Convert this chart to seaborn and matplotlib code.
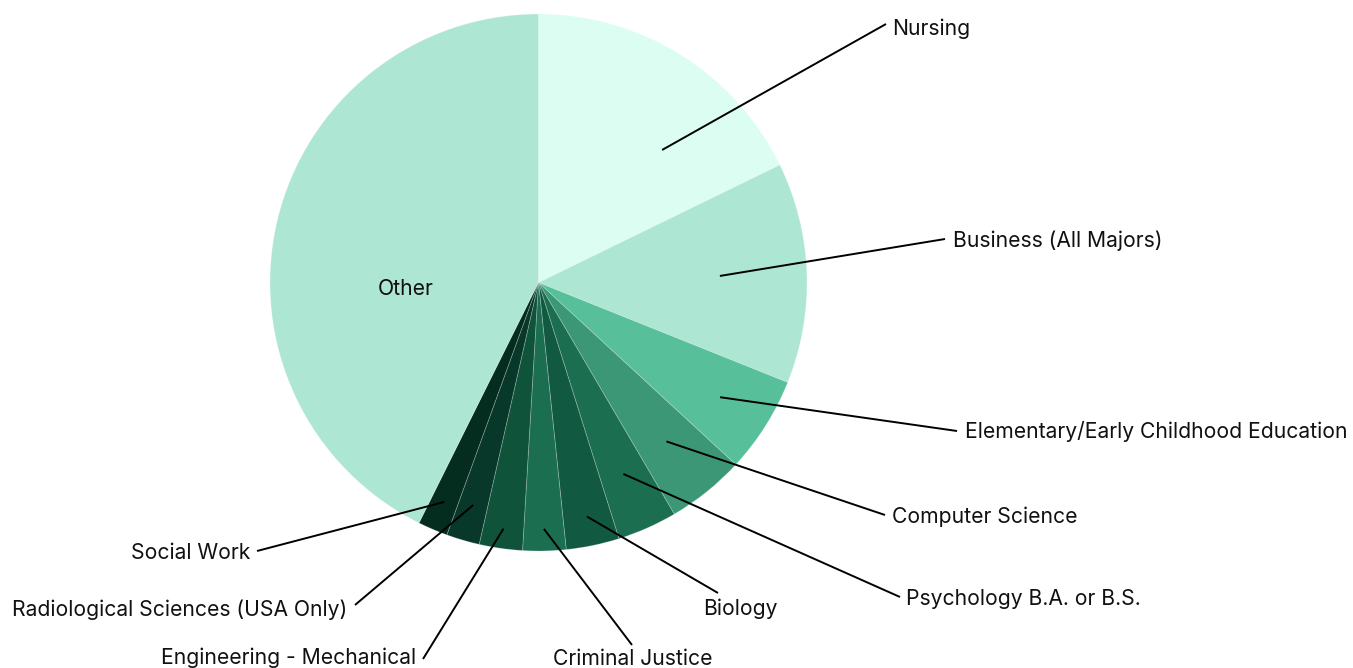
import numpy as np
import matplotlib
matplotlib.use("Agg")
import matplotlib.pyplot as plt
import seaborn as sns

# data, clockwise from 12 o'clock
majors = ["Nursing", "Business (All Majors)", "Elementary/Early Childhood Education",
          "Computer Science", "Psychology B.A. or B.S.", "Biology", "Criminal Justice",
          "Engineering - Mechanical", "Radiological Sciences (USA Only)", "Social Work", "Other"]
shares = [17.8, 13.3, 5.8, 4.7, 3.6, 3.2, 2.6, 2.6, 2.0, 1.8, 42.7]
colors = ["#dcfdf1", "#aee6d4", "#57c09a", "#3c9776", "#1b6f50", "#125942",
          "#1b6f50", "#0f533a", "#07382a", "#042c1f", "#aee6d4"]

# layout of the labels (pixel positions in the 1353x668 canvas)
W, H = 1353, 668
CX, CY, R = 538.5, 282.5, 268.5
line_frac = [0.675, 0.676, 0.80, 0.76, 0.78, 0.89, 0.918, 0.926, 0.864, 0.889, None]
angle_nudge = [-11, 0, 0, 0, 0, 0, 0, 0, 0, 0, 0]
line_end = [(886, 24), (945, 239), (957, 431), (885, 515), (900, 597), (718, 593),
            (632, 645), (423, 659), (355, 605), (257, 551), None]
text_pos = [(892, 29), (953, 241), (965, 432), (892, 517), (906, 599), (703, 609),
            (553, 659), (416, 658), (347, 610), (250, 553), (406, 289)]
text_ha = ["left", "left", "left", "left", "left", "left", "left",
           "right", "right", "right", "center"]


def px(x, y):
    return (x - CX) / R, (CY - y) / R


sns.set_theme(style="white")
plt.rcParams["font.family"] = ["Inter", "DejaVu Sans"]

fig = plt.figure(figsize=(W / 100, H / 100), dpi=100)
ax = fig.add_axes([0, 0, 1, 1])

wedges, _ = ax.pie(shares, colors=colors, startangle=90, counterclock=False,
                   radius=1, wedgeprops=dict(linewidth=0.6, edgecolor=(1, 1, 1, 0.25)))

ax.set_xlim(px(0, 0)[0], px(W, 0)[0])
ax.set_ylim(px(0, H)[1], px(0, 0)[1])
ax.set_aspect("auto")
ax.axis("off")

for i, w in enumerate(wedges):
    tx, ty = px(*text_pos[i])
    ax.text(tx, ty, majors[i], ha=text_ha[i], va="center", fontsize=15.2, color="#111111")
    if line_frac[i] is None:
        continue
    mid = np.deg2rad((w.theta1 + w.theta2) / 2 + angle_nudge[i])
    sx, sy = line_frac[i] * np.cos(mid), line_frac[i] * np.sin(mid)
    ex, ey = px(*line_end[i])
    ax.plot([sx, ex], [sy, ey], color="black", lw=1.4, solid_capstyle="butt")

plt.savefig("out.png", dpi=100)
